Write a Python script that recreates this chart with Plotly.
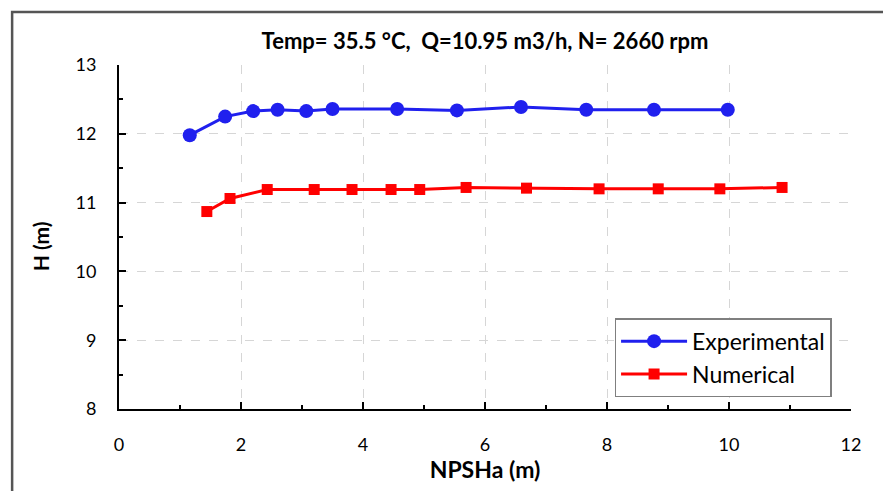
import plotly.graph_objects as go

# Experimental head vs NPSHa
exp_npsh = [1.16, 1.74, 2.20, 2.60, 3.07, 3.50, 4.56, 5.54, 6.59, 7.66, 8.77, 9.98]
exp_head = [11.98, 12.25, 12.33, 12.35, 12.33, 12.36, 12.36, 12.34, 12.39, 12.35, 12.35, 12.35]

# Numerical head vs NPSHa
num_npsh = [1.44, 1.82, 2.43, 3.20, 3.82, 4.46, 4.93, 5.69, 6.68, 7.87, 8.84, 9.85, 10.87]
num_head = [10.87, 11.06, 11.19, 11.19, 11.19, 11.19, 11.19, 11.22, 11.21, 11.20, 11.20, 11.20, 11.22]

x_ticks = [0, 2, 4, 6, 8, 10, 12]
y_ticks = [8, 9, 10, 11, 12, 13]

FONT = "Lato"

fig = go.Figure()
fig.add_trace(go.Scatter(
    x=exp_npsh, y=exp_head, mode="lines+markers", name="Experimental",
    legendgroup="exp",
    line=dict(color="#2020ee", width=3),
    marker=dict(symbol="circle", size=14, color="#2020ee"),
))
fig.add_trace(go.Scatter(
    x=num_npsh, y=num_head, mode="lines+markers", name="Numerical",
    legendgroup="num",
    line=dict(color="#ff0000", width=3),
    marker=dict(symbol="square", size=11, color="#ff0000"),
))

axis_common = dict(
    showline=True, linecolor="black", linewidth=2,
    ticks="inside", ticklen=7, tickwidth=2, tickcolor="black",
    showgrid=True, gridcolor="#d6d6d6", griddash="dash", gridwidth=1,
    zeroline=False, mirror=False,
    tickfont=dict(family=FONT, size=18, color="black"),
)

fig.update_xaxes(
    range=[0, 12], tickvals=x_ticks, ticklabelstandoff=18,
    minor=dict(ticks="inside", ticklen=4, tickwidth=2, tickcolor="black", dtick=1, showgrid=False),
    title=dict(text="<b>NPSHa (m)</b>", font=dict(family=FONT, size=23, color="black"), standoff=4),
    **axis_common,
)
fig.update_yaxes(
    range=[8, 13], tickvals=y_ticks, ticklabelstandoff=17,
    minor=dict(ticks="inside", ticklen=4, tickwidth=2, tickcolor="black", dtick=0.5, showgrid=False),
    **axis_common,
)

# y-axis title
fig.add_annotation(text="<b>H (m)</b>", xref="paper", yref="paper",
                   x=-0.106, y=0.474, xanchor="center", yanchor="middle",
                   textangle=-90, showarrow=False,
                   font=dict(family=FONT, size=21, color="black"))

# outer chart frame
fig.add_shape(type="rect", xref="paper", yref="paper",
              x0=-0.146, x1=1.5, y0=-0.6, y1=1.154,
              line=dict(color="#555555", width=2.5), fillcolor="rgba(0,0,0,0)")

fig.update_layout(
    width=883, height=491,
    margin=dict(l=119, r=32, t=65, b=82),
    paper_bgcolor="white", plot_bgcolor="white",
    title=dict(text="<b>Temp= 35.5 °C,  Q=10.95 m3/h, N= 2660 rpm</b>",
               xref="paper", x=0.5, xanchor="center", y=0.916, yanchor="middle",
               font=dict(family=FONT, size=22, color="black")),
    legend=dict(x=0.677, y=0.264, xanchor="left", yanchor="top",
                bordercolor="#7f7f7f", borderwidth=1.5, bgcolor="white",
                font=dict(family=FONT, size=23, color="black"),
                itemwidth=66, tracegroupgap=0),
    showlegend=True,
)

fig.write_html("out.html")
